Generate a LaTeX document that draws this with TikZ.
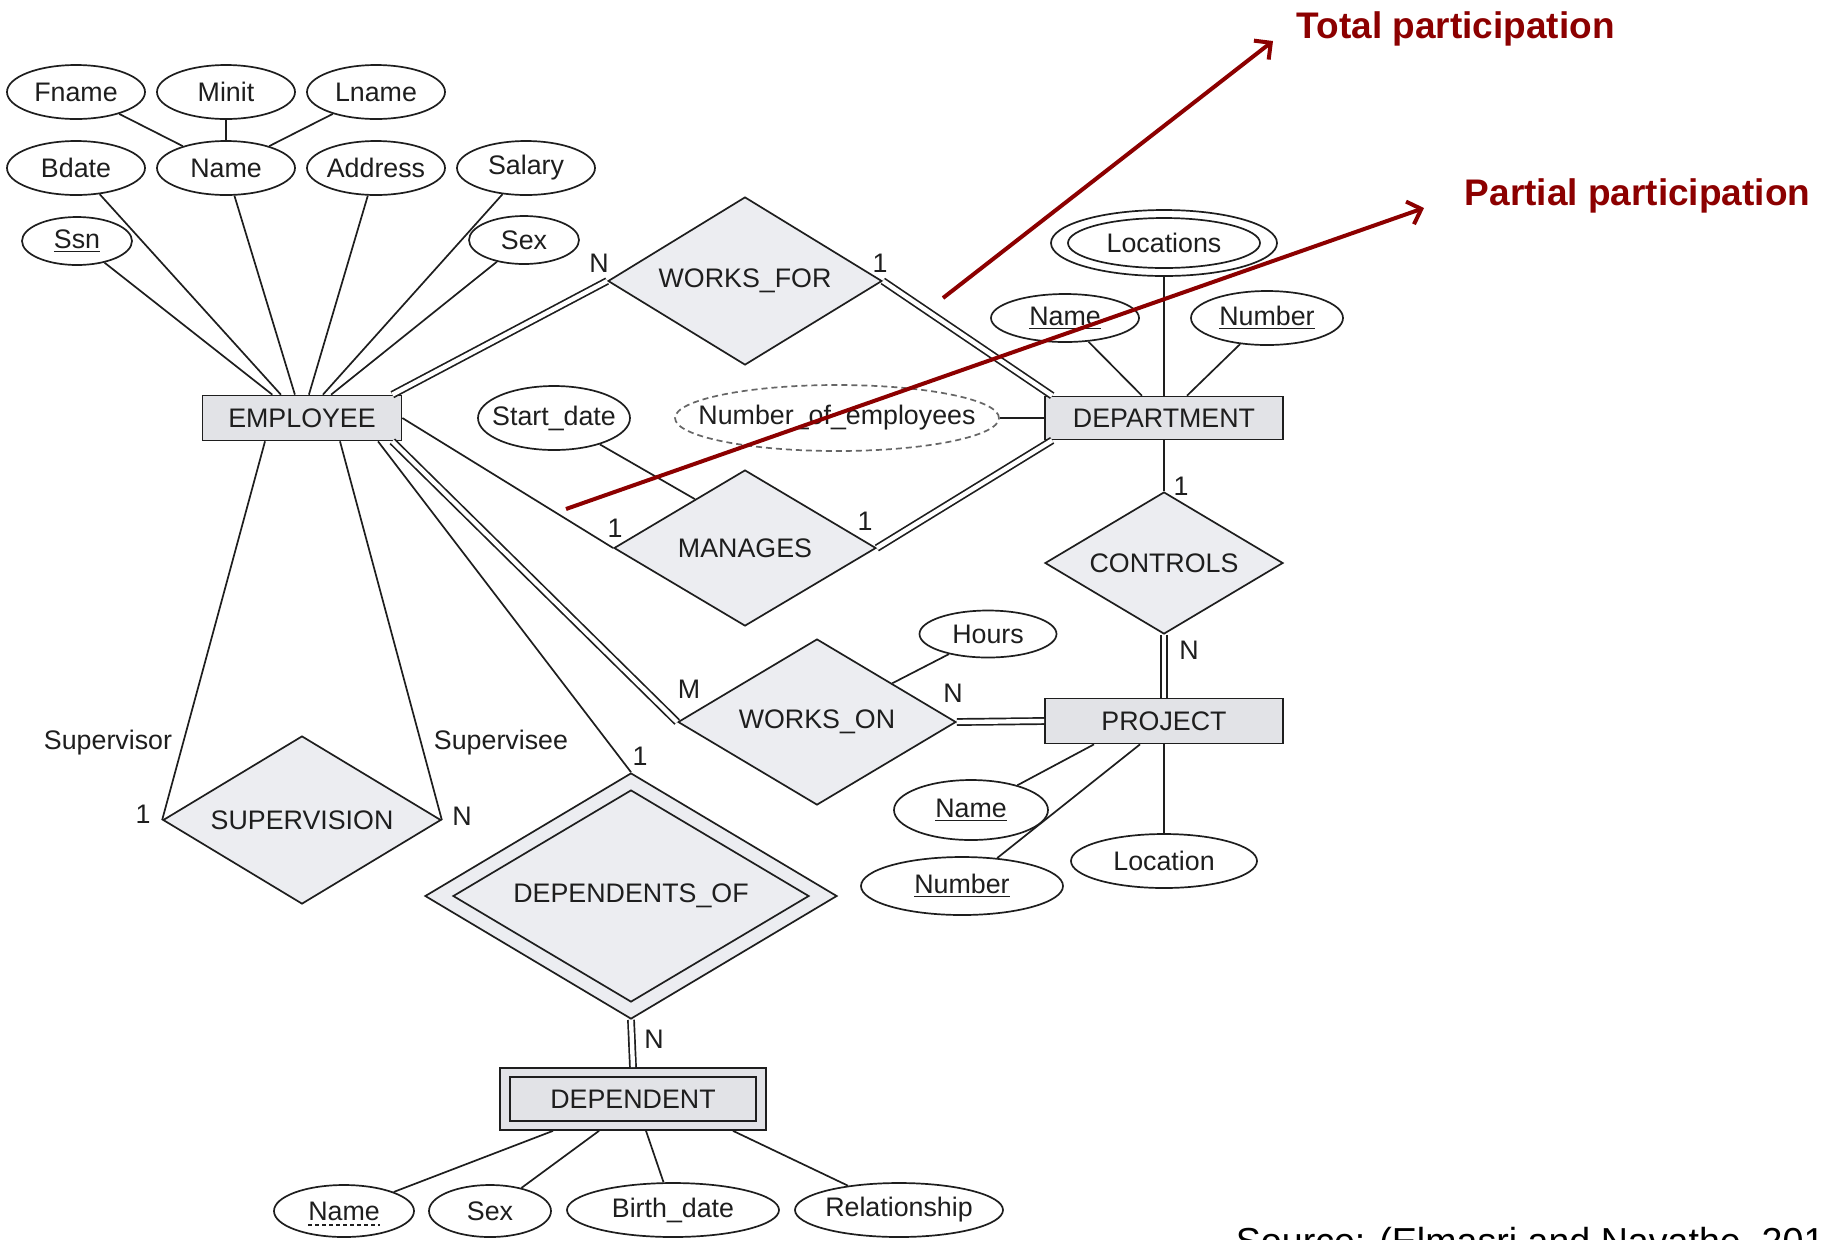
\documentclass[tikz,border=0pt]{standalone}
\usepackage{fontspec}
\setmainfont{Liberation Sans}
\usepackage{tikz}
\usetikzlibrary{shapes, arrows.meta, calc}

\definecolor{entfill}{RGB}{226,227,231}
\definecolor{relfill}{RGB}{236,237,241}
\definecolor{partred}{RGB}{140,0,0}
\definecolor{ink}{RGB}{30,30,30}

\begin{document}
\begin{tikzpicture}[x=0.5pt, y=-0.5pt, font=\fontsize{13.4}{15}\selectfont, color=ink, line width=0.85pt,
        attr/.style={ellipse, draw, inner xsep=-12pt, inner ysep=-6pt, minimum width=69pt, minimum height=27pt},
        entity/.style={rectangle, draw, fill=entfill, inner sep=0pt, minimum width=119pt, minimum height=22pt},
        rel/.style={diamond, draw, fill=relfill, inner sep=0pt, aspect=1.65},
        card/.style={inner sep=0pt},
        dbl/.style={double=white, double distance=2.2pt},
        notetext/.style={text=partred, font=\bfseries\fontsize{18.5}{20}\selectfont, anchor=base west, inner sep=0pt}]
            \path[fill=white, use as bounding box] (0,0) rectangle (1825,1239);

            % EMPLOYEE and its attributes
            \node[attr] (fname) at (76,92) {Fname};
            \node[attr] (minit) at (226,92) {Minit};
            \node[attr] (lname) at (376,92) {Lname};
            \node[attr] (bdate) at (76,168) {Bdate};
            \node[attr] (ename) at (226,168) {Name};
            \node[attr] (address) at (376,168) {Address};
            \node[attr] (salary) at (526,168) {Salary};
            \node[attr, minimum width=55pt, minimum height=24pt] (ssn) at (77,241) {\underline{Ssn}};
            \node[attr, minimum width=55pt, minimum height=24pt] (esex) at (524,240) {Sex};
            \node[entity, minimum width=99.5pt, minimum height=22.5pt] (emp) at (302,418) {EMPLOYEE};

            % DEPARTMENT and its attributes
            \node[entity, minimum height=21.5pt] (dept) at (1164,418) {DEPARTMENT};
            \node[attr, minimum width=113pt, minimum height=33pt] (locouter) at (1164,243) {};
            \node[attr, minimum width=96pt, minimum height=25pt] (locinner) at (1164,243) {Locations};
            \node[attr, minimum width=74pt, minimum height=24pt] (dname) at (1065,318) {\underline{Name}};
            \node[attr, minimum width=76pt, minimum height=27pt] (dnumber) at (1267,318) {\underline{Number}};
            \node[attr, minimum width=160pt, minimum height=33pt, draw=black!60, dash pattern=on 3pt off 2pt] (numemp) at (837,418) {Number\_of\_employees};

            % relationships
            \node[rel, minimum width=137pt, minimum height=84pt] (worksfor) at (745,281) {WORKS\_FOR};
            \node[rel, minimum width=131pt, minimum height=78pt] (manages) at (745,548) {MANAGES};
            \node[attr, minimum width=76pt, minimum height=32pt] (startdate) at (554,418) {Start\_date};
            \node[rel, minimum width=119pt, minimum height=71pt] (controls) at (1164,563) {CONTROLS};
            \node[rel, minimum width=139pt, minimum height=83pt] (workson) at (817,722) {WORKS\_ON};
            \node[attr, minimum width=68.5pt, minimum height=23.5pt] (hours) at (988,634) {Hours};
            \node[rel, minimum width=139pt, minimum height=84pt] (supervision) at (302,820) {SUPERVISION};
            \node[rel, minimum width=206pt, minimum height=123pt] (depof) at (631,896) {};
            \node[rel, minimum width=178pt, minimum height=106pt] (depofinner) at (631,896) {DEPENDENTS\_OF};

            % PROJECT and its attributes
            \node[entity, minimum height=22.5pt] (project) at (1164,721) {PROJECT};
            \node[attr, minimum width=77pt, minimum height=30pt] (pname) at (971,810) {\underline{Name}};
            \node[attr, minimum width=101pt, minimum height=29pt] (pnumber) at (962,886) {\underline{Number}};
            \node[attr, minimum width=93pt, minimum height=27pt] (ploc) at (1164,861) {Location};

            % DEPENDENT and its attributes
            \node[entity, minimum width=133pt, minimum height=31pt] (dependent) at (633,1099) {};
            \node[entity, minimum width=123pt, minimum height=22pt] (depinner) at (633,1099) {DEPENDENT};
            \node[attr, minimum width=70pt, minimum height=26pt] (depname) at (344,1211) {Name};
            \draw[dash pattern=on 2pt off 1.5pt] ([xshift=-18pt, yshift=-2.5pt]depname.base) -- ([xshift=18pt, yshift=-2.5pt]depname.base);
            \node[attr, minimum width=61pt, minimum height=26pt] (depsex) at (490,1211) {Sex};
            \node[attr, minimum width=106pt, minimum height=27pt] (birthdate) at (673,1210) {Birth\_date};
            \node[attr, minimum width=104pt, minimum height=27pt] (relship) at (899,1210) {Relationship};

            % attribute links
            \draw (fname) -- (ename);
            \draw (minit) -- (ename);
            \draw (lname) -- (ename);
            \draw (ssn) -- (emp);
            \draw (bdate) -- (emp);
            \draw (ename) -- (emp);
            \draw (address) -- (emp);
            \draw (salary) -- (emp);
            \draw (esex) -- (emp);
            \draw (locouter) -- (dept);
            \draw (dname) -- (dept);
            \draw (dnumber) -- (dept);
            \draw (numemp) -- (dept);
            \draw (startdate) -- ($(manages.west)!0.62!(manages.north)$);
            \draw (hours) -- (workson);
            \draw (pname) -- ([xshift=-35pt]project.south);
            \draw (pnumber) -- ([xshift=-12pt]project.south);
            \draw (ploc) -- (project);
            \draw (depname) -- ([xshift=-40pt]dependent.south);
            \draw (depsex) -- ([xshift=-17pt]dependent.south);
            \draw (birthdate) -- ([xshift=6.5pt]dependent.south);
            \draw (relship) -- ([xshift=50pt]dependent.south);

            % relationship links
            \draw[dbl] ([xshift=-5pt]emp.north east) -- (worksfor.west);
            \draw[dbl] (worksfor.east) -- ([xshift=4pt]dept.north west);
            \draw (emp.east) -- (manages.west);
            \draw[dbl] (manages.east) -- ([xshift=4pt]dept.south west);
            \draw (dept) -- (controls);
            \draw[dbl] (controls) -- (project);
            \draw[dbl] ([xshift=-5pt]emp.south east) -- (workson.west);
            \draw[dbl] (workson.east) -- (project.west);
            \draw ([xshift=-18.5pt]emp.south) -- (supervision.west);
            \draw ([xshift=19pt]emp.south) -- (supervision.east);
            \draw ([xshift=38pt]emp.south) -- (depof.north);
            \draw[dbl] (depof.south) -- (dependent.north);

            % cardinalities and roles
            \node[card] (wfN) at (599,263) {N};
            \node[card] (wf1) at (880,263) {1};
            \node[card] (mg1) at (615,528) {1};
            \node[card] (mg2) at (865,521) {1};
            \node[card] (ct1) at (1181,486) {1};
            \node[card] (ctN) at (1189,650) {N};
            \node[card] (woM) at (689,689) {M};
            \node[card] (woN) at (953,693) {N};
            \node[card] (sv1) at (143,814) {1};
            \node[card] (svN) at (462,816) {N};
            \node[card] (do1) at (640,756) {1};
            \node[card] (doN) at (654,1039) {N};
            \node[card] (supervisor) at (108,743) {Supervisor};
            \node[card] (supervisee) at (501,743) {Supervisee};

            % notes
            \node[notetext] (total) at (1296,38) {Total participation};
            \node[notetext] (partial) at (1464,205) {Partial participation};
            \coordinate (totalfrom) at (943,298);
            \coordinate (totalto) at (1273,41);
            \coordinate (partialfrom) at (566,509);
            \coordinate (partialto) at (1424,208);
            \draw[partred, line width=2pt, -{Straight Barb[length=6pt, width=12pt]}] (totalfrom) -- (totalto);
            \draw[partred, line width=2pt, -{Straight Barb[length=6pt, width=12pt]}] (partialfrom) -- (partialto);
            \node[anchor=base west, inner sep=0pt, text=black, font=\fontsize{18.8}{20}\selectfont] (source) at (1235,1254) {Source: (Elmasri and Navathe, 201};
        \end{tikzpicture}
\end{document}
